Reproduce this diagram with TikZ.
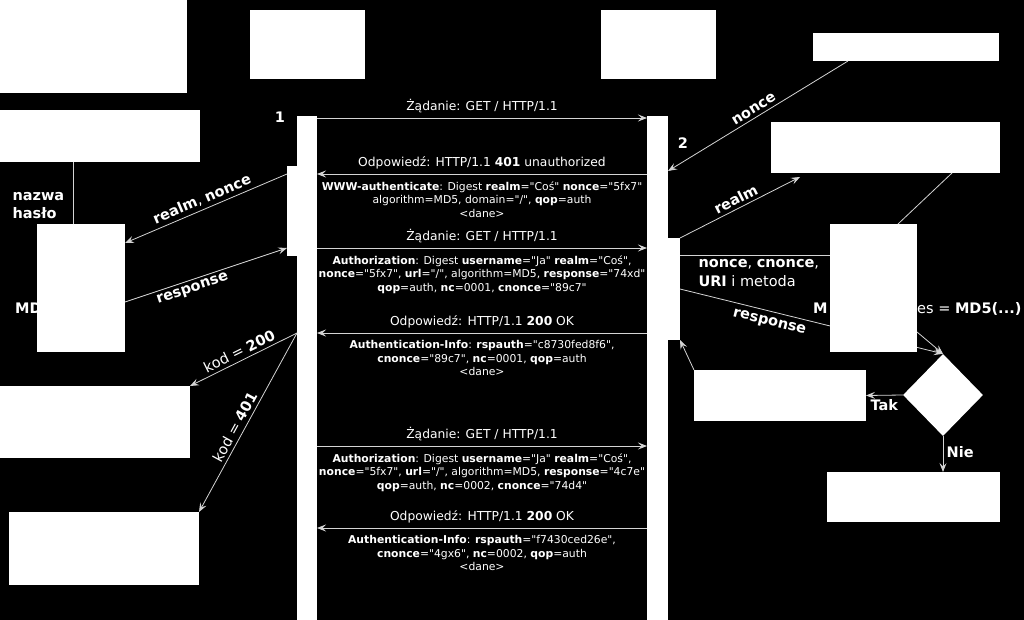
\documentclass[tikz,border=0pt]{standalone}
\usepackage{fontspec}
\setmainfont{DejaVu Sans}[Ligatures=TeXOff]
\usetikzlibrary{arrows.meta, shapes.geometric, positioning}
\definecolor{wire}{HTML}{D4D4D4}

\begin{document}
\begin{tikzpicture}[x=1pt, y=-1pt,
        blk/.style={fill=white, draw=none, inner sep=0pt, outer sep=0pt, anchor=north west},
        flow/.style={draw=wire, line width=0.8pt, -{Stealth[length=9pt, width=7pt, inset=3.5pt]}},
        plain/.style={draw=wire, line width=0.8pt},
        msg/.style={text=white, font=\fontsize{12.3}{14}\selectfont, inner sep=2pt, yshift=3pt},
        info/.style={text=white, font=\fontsize{10.8}{13.6}\selectfont, align=center, inner sep=3pt, yshift=-4pt},
        side/.style={text=white, font=\fontsize{14.5}{17}\selectfont}]
    \useasboundingbox (0,0) rectangle (1024,620);
    \fill[black] (0,0) rectangle (1024,620);

    % napisy czesciowo zasloniete
    \node[side, anchor=base west, inner sep=0pt] (mdl) at (15,313) {\textbf{MD}};
    \node[side, anchor=base west, inner sep=0pt] (mdr) at (813,313) {\textbf{M}};
    \node[side, anchor=base west, inner sep=0pt] (mdres) at (917,313) {es = \textbf{MD5(...)}};

    % linie zycia
    \node[blk, minimum width=20pt, minimum height=504pt] (cbar) at (297,116) {};
    \node[blk, minimum width=10pt, minimum height=90pt] (cact) at (287,166) {};
    \node[blk, minimum width=21pt, minimum height=504pt] (sbar) at (647,116) {};
    \node[blk, minimum width=12pt, minimum height=102pt] (sact) at (668,238) {};
    \node[diamond, aspect=1, fill=white, inner sep=0pt, minimum width=80pt, minimum height=82pt] (check) at (943,395) {};

    \draw[flow] (sact.east) -- node[side, sloped, below=2pt, pos=0.35] {\textbf{response}} (check.north);

    % bloki
    \node[blk, minimum width=187pt, minimum height=93pt] (user) at (0,0) {};
    \node[blk, minimum width=115pt, minimum height=69pt] (client) at (250,10) {};
    \node[blk, minimum width=115pt, minimum height=69pt] (server) at (601,10) {};
    \node[blk, minimum width=186pt, minimum height=28pt] (noncesrc) at (813,33) {};
    \node[blk, minimum width=200pt, minimum height=52pt] (cred) at (0,110) {};
    \node[blk, minimum width=88pt, minimum height=128pt] (hashc) at (37,224) {};
    \node[blk, minimum width=190pt, minimum height=72pt] (okbox) at (0,386) {};
    \node[blk, minimum width=190pt, minimum height=73pt] (failbox) at (9,512) {};
    \node[blk, minimum width=229pt, minimum height=51pt] (realmsrc) at (771,122) {};
    \node[blk, minimum width=87pt, minimum height=128pt] (hashs) at (830,224) {};
    \node[blk, minimum width=172pt, minimum height=51pt] (accept) at (694,370) {};
    \node[blk, minimum width=173pt, minimum height=50pt] (reject) at (827,472) {};

    \node[side] (n1) at (280,117) {\textbf{1}};
    \node[side] (n2) at (683,143) {\textbf{2}};

    % komunikaty
    \draw[flow] (cbar.east |- 0,118) -- node[msg, above] {Żądanie: GET / HTTP/1.1} (sbar.west |- 0,118);
    \draw[flow] (sbar.west |- 0,174) -- node[msg, above] {Odpowiedź: HTTP/1.1 \textbf{401} unauthorized}
        node[info, below] {\textbf{WWW-authenticate}: Digest \textbf{realm}="Coś" \textbf{nonce}="5fx7"\\
        algorithm=MD5, domain="/", \textbf{qop}=auth\\ <dane>} (cbar.east |- 0,174);
    \draw[flow] (cbar.east |- 0,248) -- node[msg, above] {Żądanie: GET / HTTP/1.1}
        node[info, below] {\textbf{Authorization}: Digest \textbf{username}="Ja" \textbf{realm}="Coś",\\
        \textbf{nonce}="5fx7", \textbf{url}="/", algorithm=MD5, \textbf{response}="74xd"\\
        \textbf{qop}=auth, \textbf{nc}=0001, \textbf{cnonce}="89c7"} (sbar.west |- 0,248);
    \draw[flow] (sbar.west |- 0,333) -- node[msg, above] {Odpowiedź: HTTP/1.1 \textbf{200} OK}
        node[info, below] {\textbf{Authentication-Info}: \textbf{rspauth}="c8730fed8f6",\\
        \textbf{cnonce}="89c7", \textbf{nc}=0001, \textbf{qop}=auth\\ <dane>} (cbar.east |- 0,333);
    \draw[flow] (cbar.east |- 0,446) -- node[msg, above] {Żądanie: GET / HTTP/1.1}
        node[info, below] {\textbf{Authorization}: Digest \textbf{username}="Ja" \textbf{realm}="Coś",\\
        \textbf{nonce}="5fx7", \textbf{url}="/", algorithm=MD5, \textbf{response}="4c7e"\\
        \textbf{qop}=auth, \textbf{nc}=0002, \textbf{cnonce}="74d4"} (sbar.west |- 0,446);
    \draw[flow] (sbar.west |- 0,528) -- node[msg, above] {Odpowiedź: HTTP/1.1 \textbf{200} OK}
        node[info, below] {\textbf{Authentication-Info}: \textbf{rspauth}="f7430ced26e",\\
        \textbf{cnonce}="4gx6", \textbf{nc}=0002, \textbf{qop}=auth\\ <dane>} (cbar.east |- 0,528);

    % strona klienta
    \draw[plain] ([xshift=-8pt]hashc.north) -- ([xshift=-8pt]hashc.north |- cred.south);
    \node[side, align=left, anchor=north west, font=\fontsize{14.5}{17.5}\selectfont\bfseries] (login) at (9,189) {nazwa\\hasło};
    \draw[flow] (cact.west |- 0,174) -- node[side, sloped, above] {\textbf{realm}, \textbf{nonce}} (hashc.east |- 0,243);
    \draw[flow] (hashc.east |- 0,302) -- node[side, sloped, below, pos=0.4] {\textbf{response}} (cact.west |- 0,248);
    \draw[flow] (cbar.west |- 0,333) -- node[side, sloped, above] {kod = \textbf{200}} (okbox.north east);
    \draw[flow] (cbar.west |- 0,333) -- node[side, sloped, above, pos=0.55] {kod = \textbf{401}} (failbox.north east);

    % strona serwera
    \draw[flow] ([xshift=35pt]noncesrc.south west) -- node[side, sloped, above] {\textbf{nonce}} (sbar.east |- 0,171);
    \draw[flow] (sact.north east) -- node[side, sloped, above] {\textbf{realm}} ([xshift=29pt, yshift=-4pt]realmsrc.south west);
    \draw[plain] ([xshift=-48pt]realmsrc.south east) -- ([xshift=-19pt]hashs.north east);
    \draw[plain] (sact.east |- 0,255) -- (hashs.west |- 0,255);
    \node[side, align=left, anchor=north west, font=\fontsize{14.5}{19}\selectfont] (params) at (695,256)
        {\textbf{nonce}, \textbf{cnonce},\\\textbf{URI} i metoda};
    \draw[flow] ([yshift=20pt]hashs.south east) -- (check.north);
    \draw[flow] (check.west) -- node[side, below] {\textbf{Tak}} (accept.east);
    \draw[flow] (accept.north west) -- (sact.south east);
    \draw[flow] (check.south) -- node[side, right, pos=0.45] {\textbf{Nie}} (check.south |- reject.north);
\end{tikzpicture}
\end{document}
